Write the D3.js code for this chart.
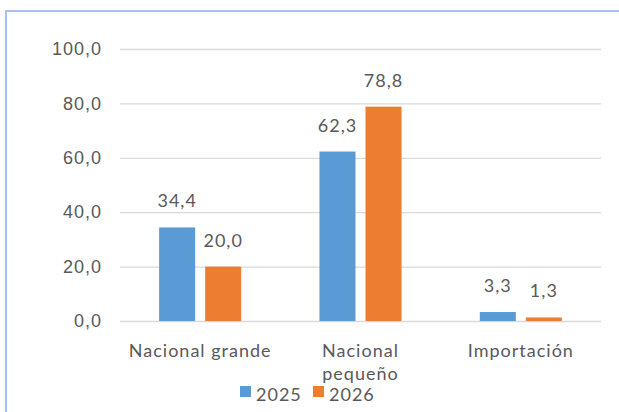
<!DOCTYPE html>
<html>
<head>
<meta charset="utf-8">
<script src="https://cdn.jsdelivr.net/npm/d3@7"></script>
<style>
  html, body { margin: 0; padding: 0; background: #fff; }
  svg { display: block; font-family: Lato, "Noto Sans", sans-serif; }
  svg text { letter-spacing: 1px; }
</style>
</head>
<body>
<div id="chart"></div>
<script>
// data
const categories = ['Nacional grande', 'Nacional pequeño', 'Importación'];
const series = ['2025', '2026'];
const values2025 = [34.4, 62.3, 3.3];
const values2026 = [20.0, 78.8, 1.3];
const yTicks = [0, 20, 40, 60, 80, 100];
const colors = ['#5b9bd5', '#ed7d31'];

const W = 619, H = 412;
const textColor = '#595959';
const fontSize = '18px';

const rows = categories.map((c, i) => ({ cat: c, vals: [values2025[i], values2026[i]] }));

const fmt = d3.formatLocale({ decimal: ',', thousands: '.', grouping: [3], currency: ['', ''] }).format('.1f');

const svg = d3.select('#chart').append('svg')
    .attr('width', W)
    .attr('height', H);

// chart frame (cropped on the right and bottom)
svg.append('rect')
    .attr('x', 6).attr('y', 11)
    .attr('width', 700).attr('height', 500)
    .attr('fill', 'none')
    .attr('stroke', '#a9c0ea')
    .attr('stroke-width', 2);

const x = d3.scaleBand()
    .domain(categories)
    .range([120, 601])
    .paddingInner(0.488)
    .paddingOuter(0.244);

const xs = d3.scaleBand()
    .domain(series)
    .range([0, x.bandwidth()])
    .paddingInner(0.217);

const y = d3.scaleLinear()
    .domain([0, 100])
    .range([321, 49]);

// gridlines + y labels
const yAxis = d3.axisLeft(y)
    .tickValues(yTicks)
    .tickFormat(fmt)
    .tickSize(-(601 - 120))
    .tickPadding(18);

svg.append('g')
    .attr('transform', 'translate(120,0)')
    .call(yAxis)
    .call(g => g.select('.domain').remove())
    .call(g => g.selectAll('.tick line').attr('stroke', '#d9d9d9').attr('stroke-width', 1.3))
    .call(g => g.selectAll('.tick text')
        .attr('fill', textColor)
        .style('font-size', fontSize));

// bars
const groups = svg.append('g').selectAll('g')
    .data(rows)
    .join('g')
    .attr('transform', d => `translate(${x(d.cat)},0)`);

groups.selectAll('rect')
    .data(d => d.vals.map((v, i) => ({ key: series[i], v: v, i: i })))
    .join('rect')
    .attr('x', d => xs(d.key))
    .attr('width', xs.bandwidth())
    .attr('y', d => y(d.v))
    .attr('height', d => y(0) - y(d.v))
    .attr('fill', d => colors[d.i]);

groups.selectAll('text')
    .data(d => d.vals.map((v, i) => ({ key: series[i], v: v })))
    .join('text')
    .attr('x', d => xs(d.key) + xs.bandwidth() / 2)
    .attr('y', d => y(d.v) - 20)
    .attr('text-anchor', 'middle')
    .attr('fill', textColor)
    .style('font-size', fontSize)
    .text(d => fmt(d.v));

// x labels (wrapped like the original)
const xLabelLines = {
    'Nacional grande': ['Nacional grande'],
    'Nacional pequeño': ['Nacional', 'pequeño'],
    'Importación': ['Importación']
};

const xl = svg.append('g').selectAll('text')
    .data(categories)
    .join('text')
    .attr('x', d => x(d) + x.bandwidth() / 2)
    .attr('y', 357)
    .attr('text-anchor', 'middle')
    .attr('fill', textColor)
    .style('font-size', fontSize);

xl.selectAll('tspan')
    .data(d => xLabelLines[d].map(t => ({ t: t, x: x(d) + x.bandwidth() / 2 })))
    .join('tspan')
    .attr('x', d => d.x)
    .attr('dy', (d, i) => i ? 23 : 0)
    .text(d => d.t);

// legend
const legendX = [240, 313];
const leg = svg.append('g').selectAll('g')
    .data(series)
    .join('g')
    .attr('transform', (d, i) => `translate(${legendX[i]},386)`);

leg.append('rect')
    .attr('width', 11).attr('height', 11)
    .attr('fill', (d, i) => colors[i]);

leg.append('text')
    .attr('x', 16)
    .attr('y', 15)
    .attr('fill', textColor)
    .style('font-size', fontSize)
    .text(d => d);
</script>
</body>
</html>
